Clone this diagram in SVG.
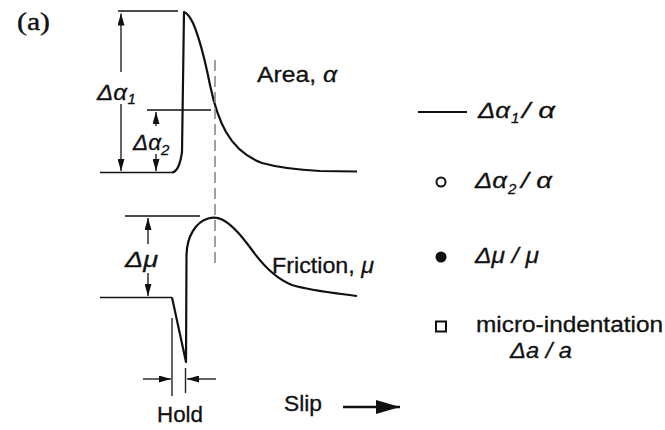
<svg xmlns="http://www.w3.org/2000/svg" width="665" height="430" viewBox="0 0 665 430">
<style>
.ln{fill:none;stroke:#111;stroke-width:1.6}
.cv{fill:none;stroke:#111;stroke-width:2.2;stroke-linejoin:round}
.dim{fill:none;stroke:#222;stroke-width:1.4}
.dash{fill:none;stroke:#888;stroke-width:1.6;stroke-dasharray:11 5}
.t{font-family:"Liberation Sans",Arial,sans-serif;font-size:22px;fill:#111;stroke:#111;stroke-width:0.3}
.gi{font-family:"Liberation Sans",Arial,sans-serif;font-style:italic;font-size:22px;fill:#111;stroke:#111;stroke-width:0.3}
.sub{font-size:15px}
.ser{font-family:"Liberation Serif","Times New Roman",serif;font-size:26px;fill:#111;stroke:#111;stroke-width:0.4}
</style>
<defs>
<marker id="ah" viewBox="0 0 12 7" refX="12" refY="3.5" markerWidth="12" markerHeight="7" markerUnits="userSpaceOnUse" orient="auto">
<path d="M0,0 L12,3.5 L0,7 z" fill="#111"/>
</marker>
<marker id="big" viewBox="0 0 24 16" refX="24" refY="8" markerWidth="24" markerHeight="16" markerUnits="userSpaceOnUse" orient="auto">
<path d="M0,1 L24,8 L0,15 z" fill="#111"/>
</marker>
</defs>

<text class="ser" x="17" y="30" textLength="33" lengthAdjust="spacingAndGlyphs">(a)</text>

<g id="area-curve">
<path class="ln" d="M118,11 L178,11"/>
<path class="ln" d="M100,172.5 L172,172.5"/>
<path class="ln" d="M147,110 L211,110"/>
<path class="cv" d="M172,172.5 C177,172 180,166 182,152 L184,12 C187,13 190,17 193,23 C199,37 205,60 210,85 C214,104 218,118 226,132 C234,146 246,157 262,163 C280,168 300,170 320,171 L357,171.5"/>
<text class="t" x="257" y="82" textLength="80" lengthAdjust="spacingAndGlyphs">Area, <tspan class="gi">α</tspan></text>
</g>

<g id="friction-curve">
<path class="ln" d="M125,216 L200,216"/>
<path class="ln" d="M100,297.5 L172,297.5"/>
<path class="cv" d="M172,297.5 L186,362 L186.5,255 C187,236 196,222 208,218.5 C212,217.5 218,217.5 222,219.5 C233,225 243,238 252,250 C262,264 274,278 292,285 C312,291 335,293 357,296"/>
<text class="t" x="272" y="273" textLength="102" lengthAdjust="spacingAndGlyphs">Friction, <tspan class="gi">μ</tspan></text>
</g>

<g id="dimensions">
<path class="dim" d="M121,72 L121,13.5" marker-end="url(#ah)"/>
<path class="dim" d="M121,104 L121,171" marker-end="url(#ah)"/>
<text class="gi" x="97" y="100" textLength="30" lengthAdjust="spacingAndGlyphs">Δα</text>
<text class="gi sub" x="127.5" y="104">1</text>

<path class="dim" d="M156,126 L156,112" marker-end="url(#ah)"/>
<path class="dim" d="M156,154 L156,171" marker-end="url(#ah)"/>
<text class="gi" x="133" y="150" textLength="28" lengthAdjust="spacingAndGlyphs">Δα</text>
<text class="gi sub" x="161" y="155">2</text>

<path class="dim" d="M148,244 L148,218" marker-end="url(#ah)"/>
<path class="dim" d="M148,273 L148,296" marker-end="url(#ah)"/>
<text class="gi" x="125" y="267" textLength="33" lengthAdjust="spacingAndGlyphs">Δμ</text>

<path class="dim" d="M172,318 L172,396"/>
<path class="dim" d="M185.5,368 L185.5,393"/>
<path class="dim" d="M143,379 L171,379" marker-end="url(#ah)"/>
<path class="dim" d="M216,379 L187,379" marker-end="url(#ah)"/>
<text class="t" x="157" y="422" textLength="46" lengthAdjust="spacingAndGlyphs">Hold</text>
</g>

<g id="connectors">
<path class="dash" d="M215,60 L215,266"/>
<path d="M343,407 L400,407" stroke="#111" stroke-width="2.5" fill="none" marker-end="url(#big)"/>
</g>
<text class="t" x="284" y="411" textLength="38" lengthAdjust="spacingAndGlyphs">Slip</text>

<g id="legend">
<path d="M418,112 L467,112" stroke="#111" stroke-width="1.8"/>
<text class="gi" x="478" y="118" textLength="32" lengthAdjust="spacingAndGlyphs">Δα</text>
<text class="gi sub" x="511" y="123">1</text>
<text class="gi" x="522" y="118" textLength="33" lengthAdjust="spacingAndGlyphs">/ α</text>

<circle cx="441" cy="182" r="4.5" fill="none" stroke="#111" stroke-width="2"/>
<text class="gi" x="475" y="188" textLength="32" lengthAdjust="spacingAndGlyphs">Δα</text>
<text class="gi sub" x="508" y="194">2</text>
<text class="gi" x="521" y="188" textLength="31" lengthAdjust="spacingAndGlyphs">/ α</text>

<circle cx="441" cy="257" r="5.5" fill="#111"/>
<text class="gi" x="475" y="263" textLength="64" lengthAdjust="spacingAndGlyphs">Δμ / μ</text>

<rect x="436" y="321.5" width="10" height="10" fill="none" stroke="#111" stroke-width="2"/>
<text class="t" x="476" y="332" textLength="187" lengthAdjust="spacingAndGlyphs">micro-indentation</text>
<text class="gi" x="510" y="358" textLength="62" lengthAdjust="spacingAndGlyphs">Δa / a</text>
</g>
</svg>
